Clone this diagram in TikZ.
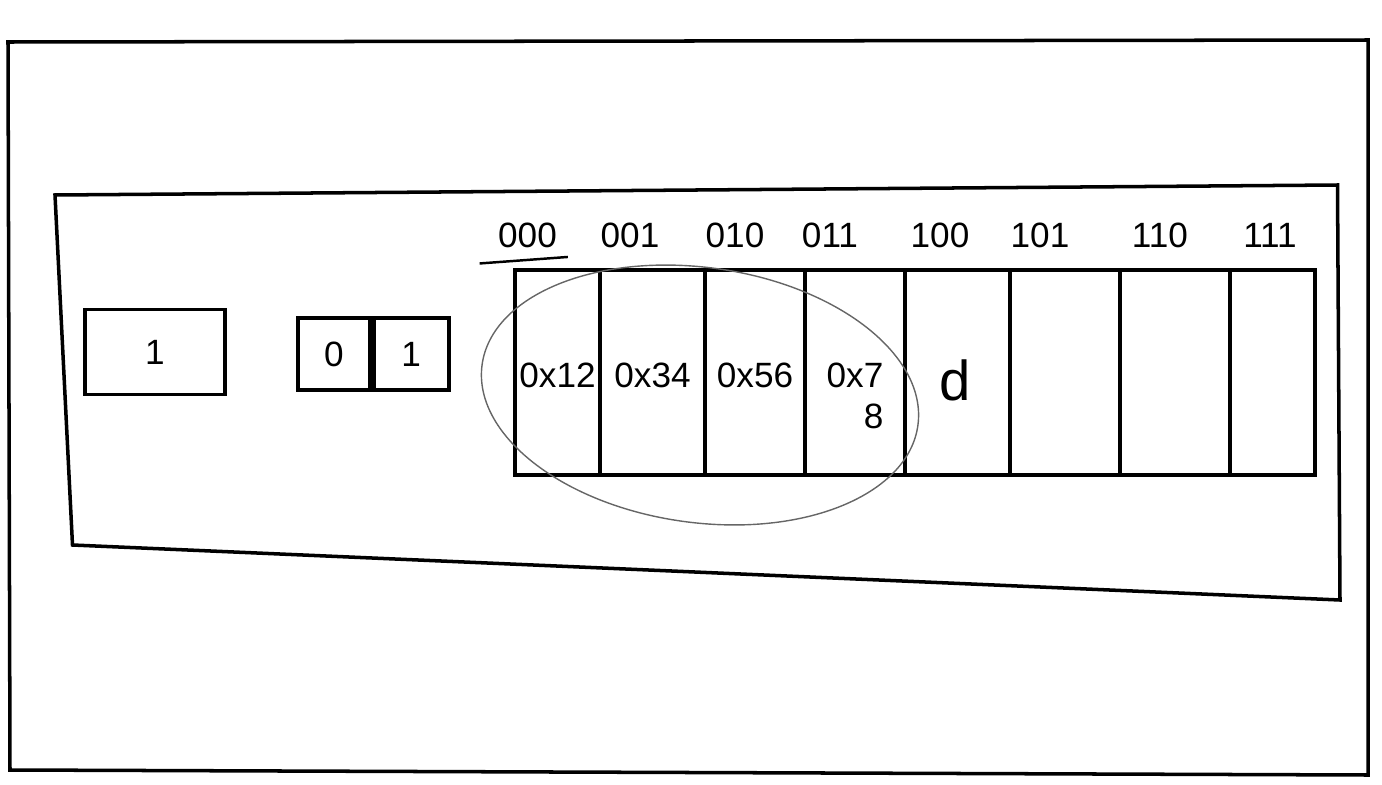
\documentclass[tikz,border=0pt]{standalone}
\usepackage{fontspec}
\setmainfont{Liberation Sans}
\usetikzlibrary{positioning}
\tikzset{
  every picture/.style={line width=2pt},
  cell/.style={draw,rectangle,minimum height=4.1cm,inner sep=0},
  val/.style={anchor=north,align=right,inner sep=0,font=\fontsize{20}{23}\selectfont},
  bit/.style={draw,rectangle,minimum height=1.45cm,inner sep=0,font=\fontsize{20}{22}\selectfont},
  addr/.style={font=\fontsize{20}{22}\selectfont,inner sep=1pt},
  ring/.style={line width=0.8pt,gray!80!black},
}

\begin{document}
\begin{tikzpicture}
\useasboundingbox (0,0) rectangle (27.64,-15.7);
% frames
\draw (0.16,-0.84) -- (27.36,-0.8) -- (27.36,-15.5) -- (0.2,-15.4) -- cycle;
\draw (1.1,-3.9) -- (26.75,-3.7) -- (26.8,-12.0) -- (1.45,-10.9) -- cycle;
% single bit box
\node[bit,minimum width=2.8cm,minimum height=1.7cm] (one) at (3.1,-7.04) {1};
% two bit box
\node[bit,minimum width=1.45cm] (b0) at (6.68,-7.08) {0};
\node[bit,minimum width=1.5cm,right=0pt of b0] (b1) {1};
% memory cells with addresses
\foreach \l/\r/\ax/\bits/\v [count=\i] in
  {10.3/12.0/10.55/000/0x12, 12.0/14.1/12.6/001/0x34, 14.1/16.1/14.7/010/0x56,
   16.1/18.1/16.6/011/{0x7\\8}, 18.1/20.2/18.8/100/{}, 20.2/22.4/20.8/101/{},
   22.4/24.6/23.2/110/{}, 24.6/26.3/25.4/111/{}} {
  \pgfmathsetmacro\w{\r-\l}
  \node[cell,minimum width=\w cm] (c\i) at ({(\l+\r)/2},-7.45) {};
  \node[val] (v\i) at ([yshift=0.22cm]c\i.center) {\v};
  \node[addr] (a\i) at (\ax,-4.7) {\bits};
}
\node[font=\fontsize{32}{34}\selectfont] (d) at (19.1,-7.6) {d};
% start mark under first address
\draw[line width=1.4pt] ([xshift=-0.3cm,yshift=-0.25cm]a1.south west) -- ([xshift=0.15cm,yshift=-0.12cm]a1.south east);
% group of four bytes
\draw[ring,rotate around={-8:(14.0,-7.9)}] (14.0,-7.9) ellipse (4.4cm and 2.55cm);
\end{tikzpicture}
\end{document}
